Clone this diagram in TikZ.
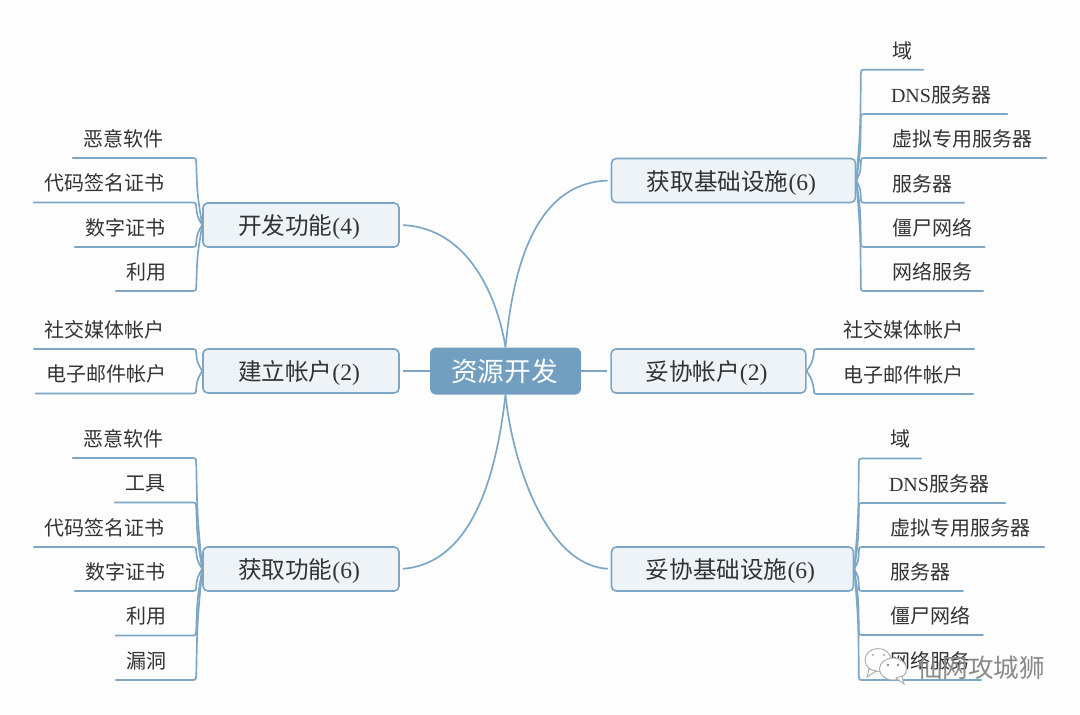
\documentclass[tikz,border=0pt]{standalone}
\usepackage{fontspec}
\setmainfont{Liberation Serif}
\newfontfamily\cjk{Noto Sans CJK SC}
\usetikzlibrary{calc}
\definecolor{ln}{HTML}{7CA6C4}
\definecolor{boxb}{HTML}{7DA6C6}
\definecolor{boxf}{HTML}{EEF3F8}
\definecolor{ctr}{HTML}{729FC0}
\definecolor{txt}{HTML}{333333}
\definecolor{bg}{HTML}{FDFDFD}
\definecolor{wm}{HTML}{8A8A8A}
\newlength\pxu \setlength\pxu{0.75pt}
\tikzset{
 branchbox/.style={draw=boxb,line width=1.2pt,fill=boxf,rounded corners=3.5pt,inner sep=0pt,font=\fontsize{17.7}{20}\selectfont\cjk,text=txt},
 centerbox/.style={fill=ctr,rounded corners=4.5pt,inner sep=0pt,minimum width=113.25pt,minimum height=35.25pt,font=\fontsize{20}{24}\selectfont\cjk,text=white},
 leafbox/.style={inner sep=0pt,font=\fontsize{15}{18}\selectfont\cjk,text=txt,anchor=south,minimum height=28.5pt},
 conn/.style={draw=ln,line width=1.25pt,line cap=round},
 main/.style={draw=ln,line width=1.25pt},
 bubble/.style={draw=wm!70,line width=0.7pt,fill=white},
 wmdot/.style={fill=wm,circle,inner sep=0pt,minimum size=2pt},
 wmark/.style={inner sep=0pt,font=\fontsize{19.2}{22}\selectfont\cjk},
}
\newcommand{\lowr}[1]{\hspace*{-3pt}\raisebox{-7.4pt}[0pt][0pt]{#1}}
% \leafn{name}{x1}{x2}{y}{inset px}{text}
\newcommand{\leafn}[6]{\node[leafbox,text width=#3pt*0.75-#2pt*0.75,align=left] (#1) at ({(#2+#3)/2},#4) {\hspace*{#5\pxu}#6};}
\newcommand{\cL}[3]{\draw[conn] (#1.west) .. controls ($(#1.west)!.5!($(#2.south east)+(3,#3*5)$)+(-2,0)$) .. ($(#2.south east)+(3,#3*5)$) .. controls ($(#2.south east)+(2.5,0)$) .. (#2.south east) -- (#2.south west);}
\newcommand{\cR}[3]{\draw[conn] (#1.east) .. controls ($(#1.east)!.5!($(#2.south west)+(-3,#3*5)$)+(2,0)$) .. ($(#2.south west)+(-3,#3*5)$) .. controls ($(#2.south west)+(-2.5,0)$) .. (#2.south west) -- (#2.south east);}
\begin{document}
\begin{tikzpicture}[x=0.75pt,y=-0.75pt]
\path[fill=bg,use as bounding box] (0,0) rectangle (1080,714);
% center
\node[centerbox] (c) at (505.5,371) {\hspace*{-1.5pt}资源开发};
% branches
\node[branchbox,minimum width=147pt,minimum height=33pt] (b1) at (301,225) {\lowr{开发功能{\rmfamily(4)}}};
\node[branchbox,minimum width=147pt,minimum height=33pt] (b2) at (301,371) {\lowr{建立帐户{\rmfamily(2)}}};
\node[branchbox,minimum width=147pt,minimum height=33pt] (b3) at (301,569) {\lowr{获取功能{\rmfamily(6)}}};
\node[branchbox,minimum width=183pt,minimum height=33pt] (b4) at (733.5,180.5) {\lowr{获取基础设施{\rmfamily(6)}}};
\node[branchbox,minimum width=146pt,minimum height=33pt] (b5) at (708.5,371) {\lowr{妥协帐户{\rmfamily(2)}}};
\node[branchbox,minimum width=181.5pt,minimum height=33pt] (b6) at (732.5,569) {\lowr{妥协基础设施{\rmfamily(6)}}};
% center connectors
\draw[main,shorten >=2.25pt] (c.north) .. controls (498,300) and (470,228) .. (b1.east);
\draw[main,shorten >=2.25pt] (c.west) -- (b2.east);
\draw[main,shorten >=2.25pt] (c.south) .. controls (498,460) and (478,563) .. (b3.east);
\draw[main,shorten >=2.25pt] (c.north) .. controls (512,280) and (530,183) .. (b4.west);
\draw[main,shorten >=2.25pt] (c.east) -- (b5.west);
\draw[main,shorten >=2.25pt] (c.south) .. controls (512,460) and (545,565) .. (b6.west);
% leaves b1
\leafn{a1}{73}{193}{158}{10}{恶意软件}
\leafn{a2}{34}{193}{202.5}{10}{代码签名证书}
\leafn{a3}{75}{193}{247}{10}{数字证书}
\leafn{a4}{116}{193}{291}{10}{利用}
\cL{b1}{a1}{1}\cL{b1}{a2}{1}\cL{b1}{a3}{-1}\cL{b1}{a4}{-1}
% leaves b2
\leafn{d1}{34}{193}{349}{10}{社交媒体帐户}
\leafn{d2}{36}{193}{393.5}{10}{电子邮件帐户}
\cL{b2}{d1}{1}\cL{b2}{d2}{-1}
% leaves b3
\leafn{e1}{73}{193}{458}{10}{恶意软件}
\leafn{e2}{115}{193}{502.5}{10}{工具}
\leafn{e3}{34}{193}{547}{10}{代码签名证书}
\leafn{e4}{75}{193}{591}{10}{数字证书}
\leafn{e5}{116}{193}{635.5}{10}{利用}
\leafn{e6}{116}{193}{680}{10}{漏洞}
\cL{b3}{e1}{1}\cL{b3}{e2}{1}\cL{b3}{e3}{1}\cL{b3}{e4}{-1}\cL{b3}{e5}{-1}\cL{b3}{e6}{-1}
% leaves b4
\leafn{f1}{864}{923}{69.7}{28}{域}
\leafn{f2}{864}{1007}{114}{27}{{\rmfamily DNS}服务器}
\leafn{f3}{864}{1046}{158}{28}{虚拟专用服务器}
\leafn{f4}{864}{964}{202.7}{28}{服务器}
\leafn{f5}{864}{984.5}{247}{28}{僵尸网络}
\leafn{f6}{864}{983}{291}{28}{网络服务}
\cR{b4}{f1}{1}\cR{b4}{f2}{1}\cR{b4}{f3}{1}\cR{b4}{f4}{-1}\cR{b4}{f5}{-1}\cR{b4}{f6}{-1}
% leaves b5
\leafn{g1}{817}{974}{349}{26}{社交媒体帐户}
\leafn{g2}{817}{973}{394}{26}{电子邮件帐户}
\cR{b5}{g1}{1}\cR{b5}{g2}{-1}
% leaves b6
\leafn{h1}{862}{921}{458.5}{28}{域}
\leafn{h2}{862}{1005}{503}{27}{{\rmfamily DNS}服务器}
\leafn{h3}{862}{1044}{547}{28}{虚拟专用服务器}
\leafn{h4}{862}{962.7}{591}{28}{服务器}
\leafn{h5}{862}{982.7}{635}{28}{僵尸网络}
\leafn{h6}{862}{981}{680}{28}{网络服务}
\cR{b6}{h1}{1}\cR{b6}{h2}{1}\cR{b6}{h3}{1}\cR{b6}{h4}{-1}\cR{b6}{h5}{-1}\cR{b6}{h6}{-1}
% watermark
\path[bubble,fill opacity=.8] (878,660) ellipse [x radius=13,y radius=11.5];
\path[bubble,fill opacity=.8] (869,669) -- (867,677) -- (876,671) -- cycle;
\node[wmdot,fill=wm!60] (wa) at (873,655) {};
\node[wmdot,fill=wm!60] (wb) at (884,655) {};
\path[bubble] (893,669) ellipse [x radius=13.5,y radius=11];
\path[bubble] (896,678) -- (904,684) -- (902,676) -- cycle;
\node[wmdot] (wc) at (888,665) {};
\node[wmdot] (wd) at (898,665) {};
\node[wmark,text=wm] (wu) at (981,668) {仙网攻城狮};
\end{tikzpicture}
\end{document}
